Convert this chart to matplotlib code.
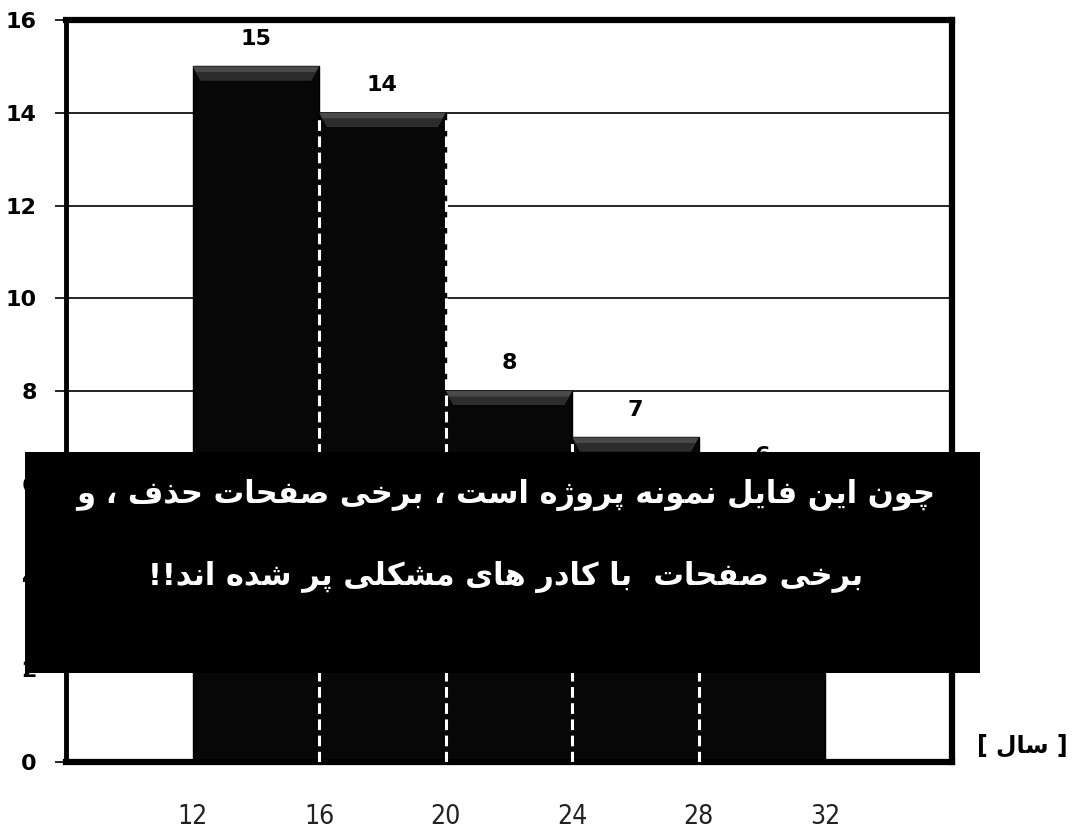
import matplotlib.pyplot as plt
from matplotlib.patches import Polygon, Rectangle

# age classes (years) and frequencies
bin_edges = [12, 16, 20, 24, 28, 32]
counts = [15, 14, 8, 7, 6]
y_ticks = [0, 2, 4, 6, 8, 10, 12, 14, 16]
# heights of the white dashed separators at 16, 20, 24, 28
edge_tops = [counts[1], counts[1], counts[3], counts[4]]

note_lines = ["چون این فایل نمونه پروژه است ، برخی صفحات حذف ، و",
              "برخی صفحات  با کادر های مشکلی پر شده اند!!"]
unit_label = "سال"

# presentation forms: isolated, final, initial, medial
FORMS = {
    '\u0627': ('\uFE8D', '\uFE8E', None, None),
    '\u0628': ('\uFE8F', '\uFE90', '\uFE91', '\uFE92'),
    '\u067E': ('\uFB56', '\uFB57', '\uFB58', '\uFB59'),
    '\u062A': ('\uFE95', '\uFE96', '\uFE97', '\uFE98'),
    '\u0686': ('\uFB7A', '\uFB7B', '\uFB7C', '\uFB7D'),
    '\u062D': ('\uFEA1', '\uFEA2', '\uFEA3', '\uFEA4'),
    '\u062E': ('\uFEA5', '\uFEA6', '\uFEA7', '\uFEA8'),
    '\u062F': ('\uFEA9', '\uFEAA', None, None),
    '\u0630': ('\uFEAB', '\uFEAC', None, None),
    '\u0631': ('\uFEAD', '\uFEAE', None, None),
    '\u0632': ('\uFEAF', '\uFEB0', None, None),
    '\u0698': ('\uFB8A', '\uFB8B', None, None),
    '\u0633': ('\uFEB1', '\uFEB2', '\uFEB3', '\uFEB4'),
    '\u0634': ('\uFEB5', '\uFEB6', '\uFEB7', '\uFEB8'),
    '\u0635': ('\uFEB9', '\uFEBA', '\uFEBB', '\uFEBC'),
    '\u0641': ('\uFED1', '\uFED2', '\uFED3', '\uFED4'),
    '\u06A9': ('\uFB8E', '\uFB8F', '\uFB90', '\uFB91'),
    '\u0644': ('\uFEDD', '\uFEDE', '\uFEDF', '\uFEE0'),
    '\u0645': ('\uFEE1', '\uFEE2', '\uFEE3', '\uFEE4'),
    '\u0646': ('\uFEE5', '\uFEE6', '\uFEE7', '\uFEE8'),
    '\u0647': ('\uFEE9', '\uFEEA', '\uFEEB', '\uFEEC'),
    '\u0648': ('\uFEED', '\uFEEE', None, None),
    '\u06CC': ('\uFBFC', '\uFBFD', '\uFBFE', '\uFBFF'),
}


def shape_rtl(text):
    # join letters and reverse so the line reads right to left
    out = []
    for i, c in enumerate(text):
        if c not in FORMS:
            out.append(c)
            continue
        prev = text[i - 1] if i > 0 else ''
        nxt = text[i + 1] if i + 1 < len(text) else ''
        j_prev = prev in FORMS and FORMS[prev][2] is not None
        j_next = FORMS[c][2] is not None and nxt in FORMS
        if j_prev and j_next:
            out.append(FORMS[c][3])
        elif j_prev:
            out.append(FORMS[c][1])
        elif j_next:
            out.append(FORMS[c][2])
        else:
            out.append(FORMS[c][0])
    return ''.join(out[::-1])


fig = plt.figure(figsize=(10.89, 8.35), dpi=100)
ax = fig.add_axes([0.0606, 0.0874, 0.8136, 0.8886])

ax.set_xlim(8, 36)
ax.set_ylim(0, 16)
ax.set_yticks(y_ticks)
ax.set_xticks(bin_edges)
ax.grid(axis='y', color='black', linewidth=1.2, zorder=0)
ax.set_axisbelow(True)

for s in ['top', 'right', 'bottom']:
    ax.spines[s].set_linewidth(4.5)
ax.spines['left'].set_linewidth(3.5)

ax.tick_params(axis='y', length=8, width=1.2, direction='out', pad=13)
ax.tick_params(axis='x', length=0, pad=30)
for lab in ax.get_yticklabels():
    lab.set_fontsize(16)
    lab.set_fontweight('heavy')
for lab in ax.get_xticklabels():
    lab.set_fontsize(19)
    lab.set_family(['DejaVu Sans'])
    lab.set_stretch('condensed')
    lab.set_color('#222222')

widths = [bin_edges[i + 1] - bin_edges[i] for i in range(len(counts))]
ax.bar(bin_edges[:-1], counts, width=widths, align='edge', color='#070707',
       edgecolor='black', linewidth=1, zorder=2)

# bevelled top strip on each bar
for i, h in enumerate(counts):
    x0, x1 = bin_edges[i], bin_edges[i + 1]
    bev = Polygon([(x0, h), (x1, h), (x1 - 0.25, h - 0.3), (x0 + 0.25, h - 0.3)],
                  closed=True, facecolor='#4a4a4a', edgecolor='none', zorder=3)
    ax.add_patch(bev)
    bev2 = Polygon([(x0 + 0.1, h - 0.12), (x1 - 0.1, h - 0.12), (x1 - 0.25, h - 0.3),
                    (x0 + 0.25, h - 0.3)],
                   closed=True, facecolor='#2c2c2c', edgecolor='none', zorder=3)
    ax.add_patch(bev2)
    ax.text((x0 + x1) / 2, h + 0.38, str(h), ha='center', va='bottom',
            fontsize=16, fontweight='bold', zorder=4)

# white dashed separators between neighbouring bars
for x, top in zip(bin_edges[1:-1], edge_tops):
    ax.plot([x, x], [0, top - 0.1], color='white', linewidth=2.2,
            linestyle=(0, (3.5, 1.8)), zorder=4)

ax.text(36.8, 0.35, '[ ' + shape_rtl(unit_label) + ' ]', ha='left', va='center',
        fontsize=17, fontweight='bold')

# black note banner across the lower half
fig.patches.append(Rectangle((0.023, 0.194), 0.877, 0.265, transform=fig.transFigure,
                             facecolor='black', edgecolor='none', zorder=10))
fig.text(0.464, 0.407, shape_rtl(note_lines[0]), ha='center', va='center',
         color='white', fontsize=22, fontweight='bold', zorder=11)
fig.text(0.464, 0.309, shape_rtl(note_lines[1]), ha='center', va='center',
         color='white', fontsize=22, fontweight='bold', zorder=11)

fig.savefig('out.png', dpi=100)
